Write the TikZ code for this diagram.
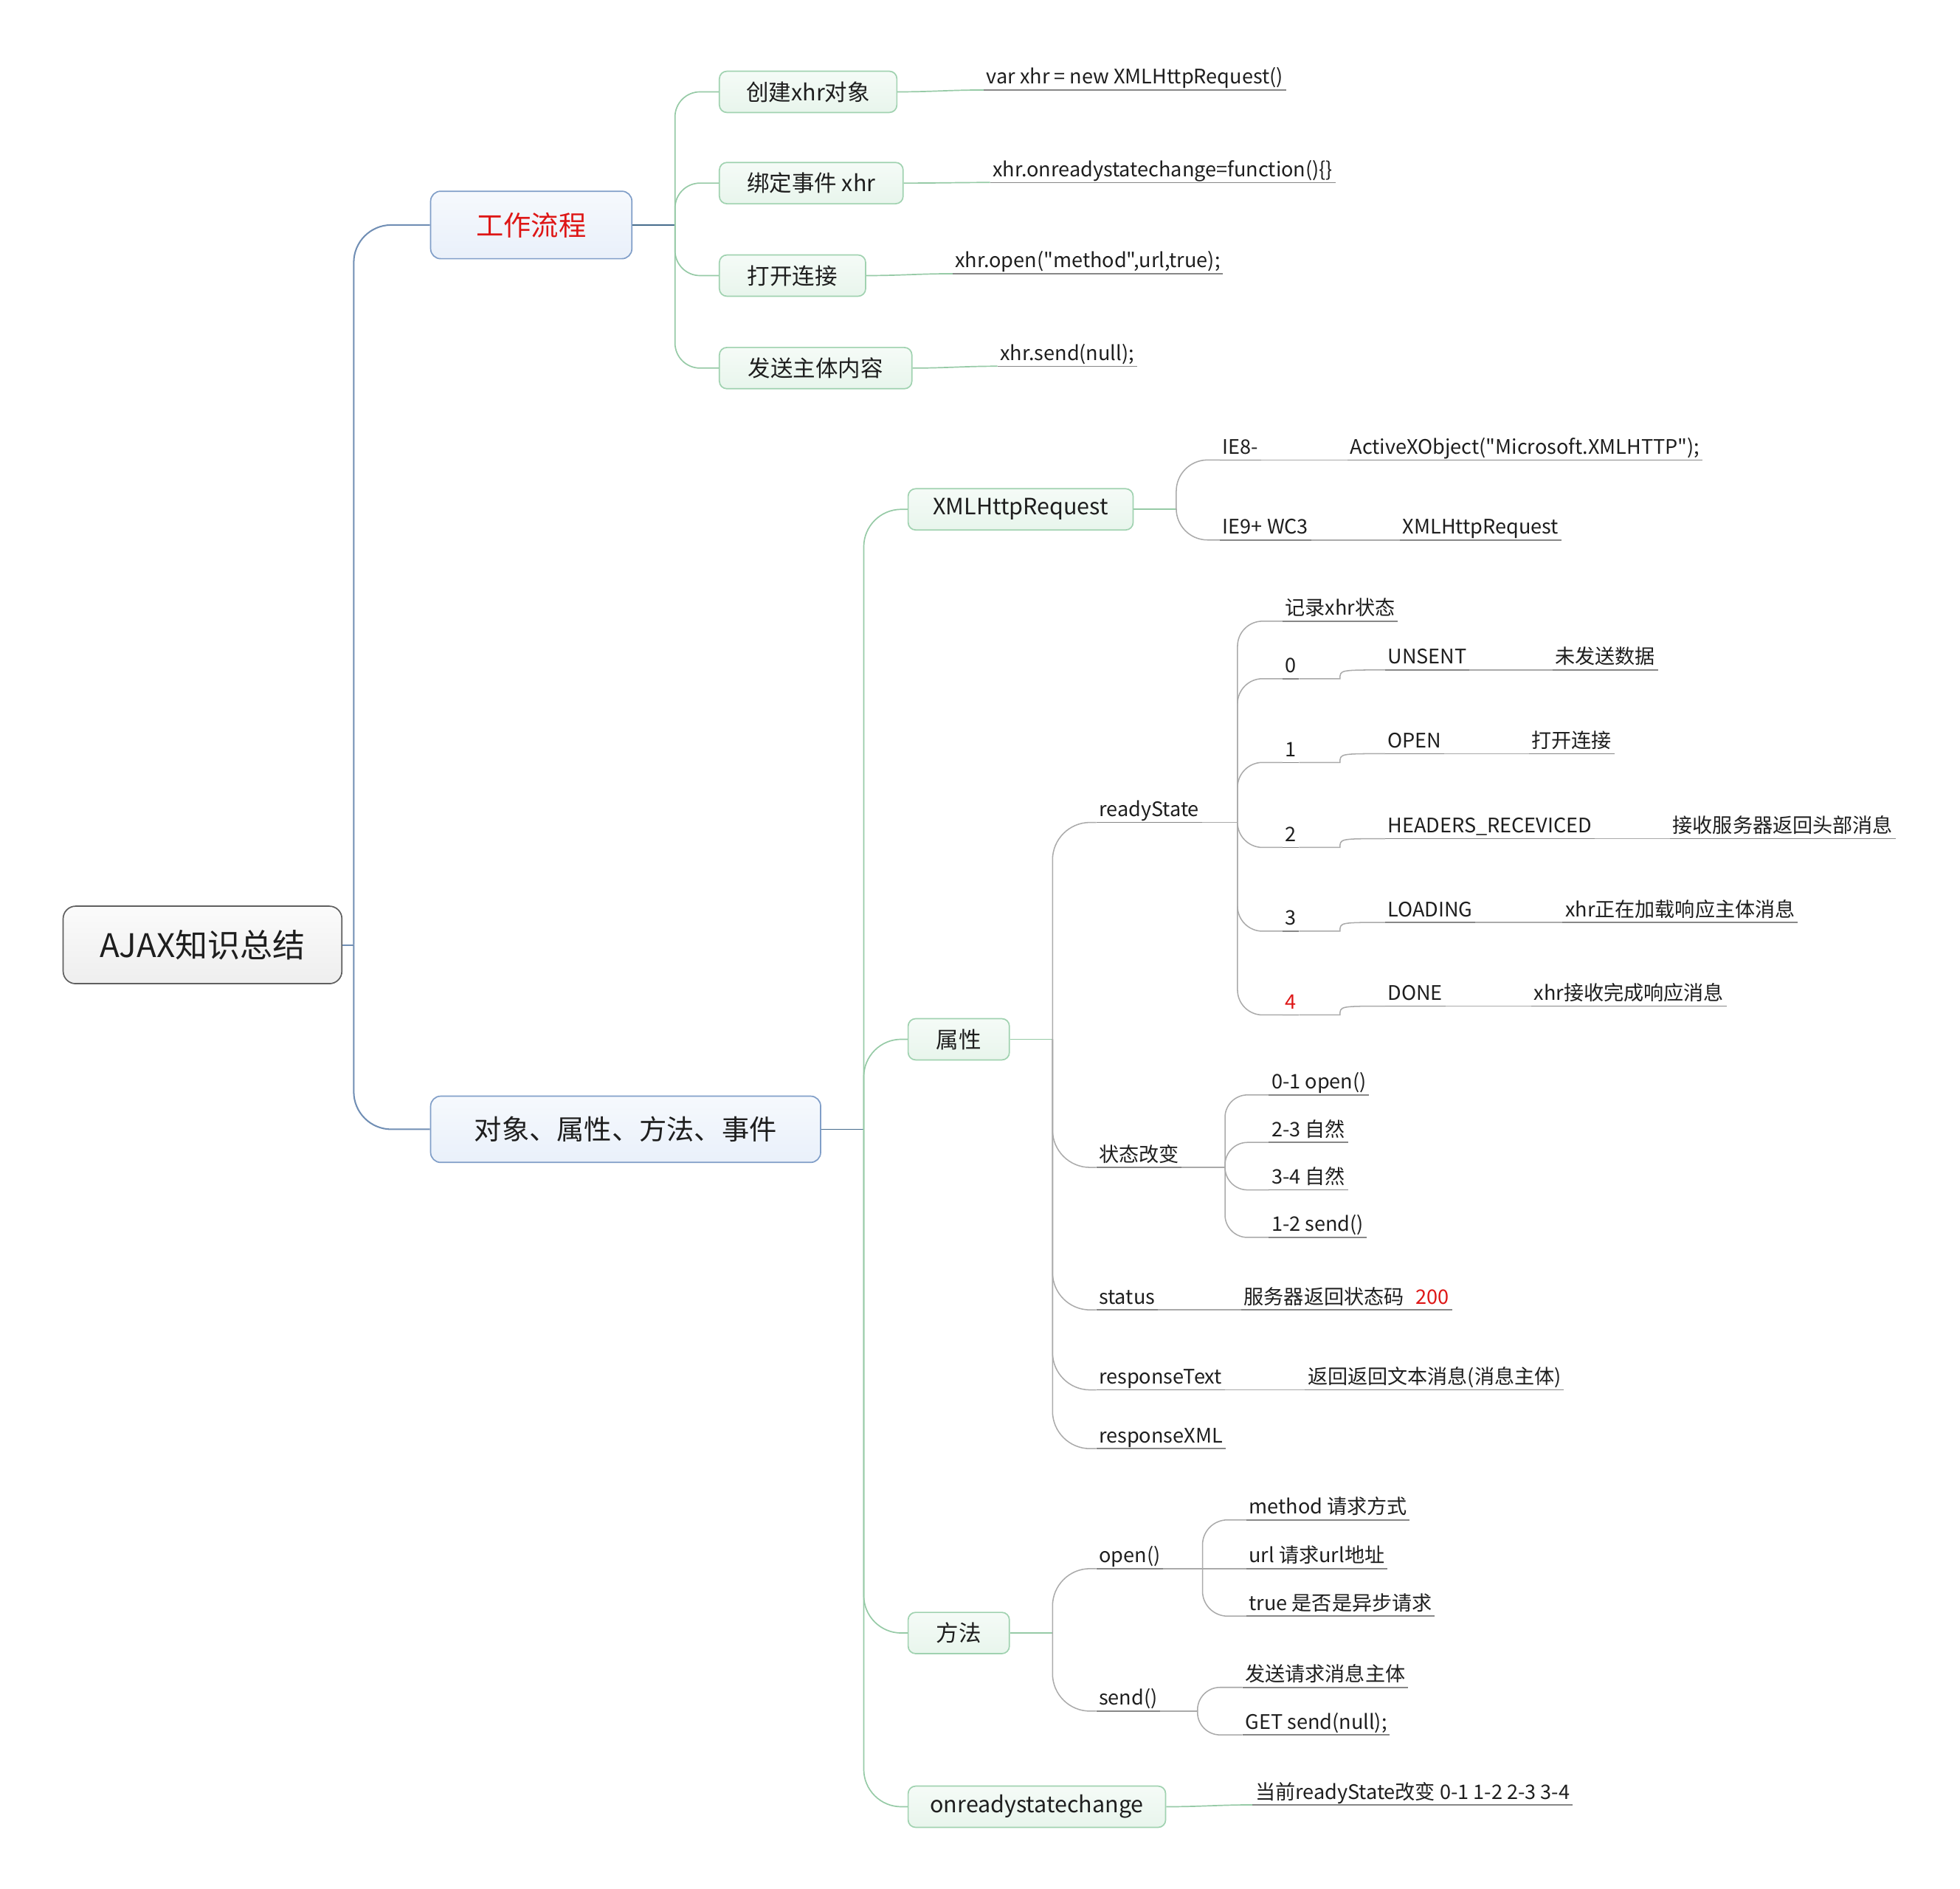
\documentclass[tikz,border=0pt]{standalone}
\usepackage{fontspec}
\setmainfont{Noto Sans CJK SC}[Ligatures=TeXOff]
\usetikzlibrary{calc}

\definecolor{txt}{RGB}{30,30,30}
\definecolor{hot}{RGB}{222,22,22}
\definecolor{bluel}{RGB}{112,142,180}
\definecolor{bluedk}{RGB}{70,108,140}
\definecolor{greenl}{RGB}{150,202,166}
\definecolor{grayl}{RGB}{170,170,170}
\definecolor{grayu}{RGB}{135,135,135}
\definecolor{rootbd}{RGB}{95,95,95}
\definecolor{mainbd}{RGB}{128,158,200}
\definecolor{subbd}{RGB}{160,210,176}
\definecolor{roottop}{RGB}{251,251,251}
\definecolor{rootbot}{RGB}{238,238,238}
\definecolor{maintop}{RGB}{246,249,253}
\definecolor{mainbot}{RGB}{233,240,250}
\definecolor{subtop}{RGB}{245,251,247}
\definecolor{subbot}{RGB}{232,245,236}

\tikzset{
  rootbox/.style={draw=rootbd, line width=1pt, rounded corners=10pt,
    top color=roottop, bottom color=rootbot, minimum height=62pt,
    inner sep=0pt, text=txt, font=\fontsize{26}{30}\selectfont},
  mainbox/.style={draw=mainbd, line width=1pt, rounded corners=8pt,
    top color=maintop, bottom color=mainbot, minimum height=53pt,
    inner sep=0pt, text=txt, font=\fontsize{22}{26}\selectfont},
  subbox/.style={draw=subbd, line width=1pt, rounded corners=6pt,
    top color=subtop, bottom color=subbot, minimum height=33pt,
    inner sep=0pt, text=txt, font=\fontsize{18}{22}\selectfont},
  leaf/.style={anchor=south west, inner xsep=2pt, inner ysep=1pt,
    text height=12pt, text depth=3.5pt, text=txt,
    font=\fontsize{16}{19}\selectfont},
  bline/.style={draw=bluel, line width=1.2pt},
  dline/.style={draw=bluedk, line width=1pt},
  gline/.style={draw=greenl, line width=1pt},
  kline/.style={draw=grayl, line width=0.9pt},
  uline/.style={draw=grayu, line width=0.9pt},
}

\begin{document}
\begin{tikzpicture}[x=1pt,y=-1pt]
\useasboundingbox (0,0) rectangle (1568,1511);

% ---------- boxes ----------
\node[rootbox, minimum width=223pt, anchor=west] (root) at (50,756) {AJAX知识总结};
\node[mainbox, minimum width=161pt, minimum height=54pt, anchor=west] (wf) at (344,180) {\textcolor{hot}{工作流程}};
\node[mainbox, minimum width=312pt, anchor=west] (obj) at (344,903.5) {对象、属性、方法、事件};

\node[subbox, minimum width=142pt, anchor=west] (c1) at (575,73.5) {创建xhr对象};
\node[subbox, minimum width=147pt, anchor=west] (c2) at (575,146.5) {绑定事件 xhr};
\node[subbox, minimum width=117pt, anchor=west] (c3) at (575,220.5) {打开连接};
\node[subbox, minimum width=154pt, anchor=west] (c4) at (575,294.5) {发送主体内容};

\node[subbox, minimum width=180pt, anchor=west] (xr) at (726,407.5) {XMLHttpRequest};
\node[subbox, minimum width=81pt, anchor=west] (sx) at (726,831.5) {属性};
\node[subbox, minimum width=81pt, anchor=west] (ff) at (726,1306.5) {方法};
\node[subbox, minimum width=206pt, anchor=west] (on) at (726,1445.5) {onreadystatechange};

% ---------- leaves: workflow ----------
\node[leaf] (v1) at (787,72) {var xhr = new XMLHttpRequest()};
\node[leaf] (v2) at (792,146) {xhr.onreadystatechange=function()\{\}};
\node[leaf] (v3) at (762,219) {xhr.open("method",url,true);};
\node[leaf] (v4) at (798,293) {xhr.send(null);};

% ---------- leaves: XMLHttpRequest ----------
\node[leaf] (ie8) at (976,368) {IE8-};
\node[leaf] (ax) at (1078,368) {ActiveXObject("Microsoft.XMLHTTP");};
\node[leaf] (ie9) at (976,432) {IE9+ WC3};
\node[leaf] (xh) at (1120,432) {XMLHttpRequest};

% ---------- leaves: properties ----------
\node[leaf] (rs) at (877,658) {readyState};
\node[leaf] (r0) at (1026,497) {记录xhr状态};
\node[leaf] (z0) at (1026,543) {0};
\node[leaf] (z1) at (1026,610) {1};
\node[leaf] (z2) at (1026,678) {2};
\node[leaf] (z3) at (1026,745) {3};
\node[leaf] (z4) at (1026,812) {\textcolor{hot}{4}};
\node[leaf] (u0) at (1108,536) {UNSENT};
\node[leaf] (u1) at (1108,603) {OPEN};
\node[leaf] (u2) at (1108,671) {HEADERS\_RECEVICED};
\node[leaf] (u3) at (1108,738) {LOADING};
\node[leaf] (u4) at (1108,805) {DONE};
\node[leaf] (d0) at (1242,536) {未发送数据};
\node[leaf] (d1) at (1223,603) {打开连接};
\node[leaf] (d2) at (1336,671) {接收服务器返回头部消息};
\node[leaf] (d3) at (1250,738) {xhr正在加载响应主体消息};
\node[leaf] (d4) at (1225,805) {xhr接收完成响应消息};

\node[leaf] (sg) at (877,934) {状态改变};
\node[leaf] (t1) at (1015,876) {0-1 open()};
\node[leaf] (t2) at (1015,914) {2-3 自然};
\node[leaf] (t3) at (1015,952) {3-4 自然};
\node[leaf] (t4) at (1015,990) {1-2 send()};

\node[leaf] (st) at (877,1048) {status};
\node[leaf] (sv) at (993,1048) {服务器返回状态码\hspace{0.6em}\textcolor{hot}{200}};
\node[leaf] (rt) at (877,1112) {responseText};
\node[leaf] (rv) at (1044,1112) {返回返回文本消息(消息主体)};
\node[leaf] (rx) at (877,1159) {responseXML};

% ---------- leaves: methods ----------
\node[leaf] (op) at (877,1255) {open()};
\node[leaf] (m1) at (997,1216) {method 请求方式};
\node[leaf] (m2) at (997,1255) {url 请求url地址};
\node[leaf] (m3) at (997,1293) {true 是否是异步请求};
\node[leaf] (sd) at (877,1369) {send()};
\node[leaf] (n1) at (994,1350) {发送请求消息主体};
\node[leaf] (n2) at (994,1388) {GET send(null);};

% ---------- leaf: event ----------
\node[leaf] (oc) at (1002,1444) {当前readyState改变 0-1 1-2 2-3 3-4};

% ---------- connectors: root ----------
\coordinate (j0) at (283,756);
\draw[bline] (root.east) -- (j0);
\draw[bline, rounded corners=30pt] (j0) |- (wf.west);
\draw[bline, rounded corners=30pt] (j0) |- (obj.west);

% ---------- connectors: workflow ----------
\coordinate (j1) at (540,180);
\draw[dline] (wf.east) -- (j1);
\foreach \c in {c1,c2,c3,c4}
  \draw[gline, rounded corners=20pt] (j1) |- (\c.west);
\foreach \a/\b in {c1/v1,c2/v2,c3/v3,c4/v4}
  \draw[gline] (\a.east) to[out=0,in=180] (\b.south west);

% ---------- connectors: objects, properties, methods, events ----------
\coordinate (j2) at (691,903.5);
\draw[dline] (obj.east) -- (j2);
\foreach \c in {xr,sx,ff,on}
  \draw[gline, rounded corners=30pt] (j2) |- (\c.west);

% XMLHttpRequest
\coordinate (j3) at (941,407.5);
\draw[gline] (xr.east) -- (j3);
\foreach \c in {ie8,ie9}
  \draw[kline, rounded corners=25pt] (j3) |- (\c.south west);
\draw[kline] (ie8.south east) -- (ax.south west);
\draw[kline] (ie9.south east) -- (xh.south west);

% properties
\coordinate (j4) at (842,831.5);
\draw[gline] (sx.east) -- (j4);
\foreach \c in {rs,sg,st,rt,rx}
  \draw[kline, rounded corners=30pt] (j4) |- (\c.south west);

% readyState values
\coordinate (j5) at (990,658);
\draw[kline] (rs.south east) -- (j5);
\foreach \c in {r0,z0,z1,z2,z3,z4}
  \draw[kline, rounded corners=20pt] (j5) |- (\c.south west);
\coordinate (jog) at (1072,0);
\foreach \a/\b/\c in {z0/u0/d0,z1/u1/d1,z2/u2/d2,z3/u3/d3,z4/u4/d4}{
  \draw[kline] (\a.south east) -- (\a.south east -| jog)
    .. controls (jog |- \b.south west) .. (\b.south west);
  \draw[kline] (\b.south east) -- (\c.south west);
}

% state changes
\coordinate (j6) at (980,934);
\draw[kline] (sg.south east) -- (j6);
\foreach \c in {t1,t2,t3,t4}
  \draw[kline, rounded corners=18pt] (j6) |- (\c.south west);

\draw[kline] (st.south east) -- (sv.south west);
\draw[kline] (rt.south east) -- (rv.south west);

% methods
\coordinate (j7) at (842,1306.5);
\draw[gline] (ff.east) -- (j7);
\foreach \c in {op,sd}
  \draw[kline, rounded corners=30pt] (j7) |- (\c.south west);
\coordinate (j8) at (962,1255);
\draw[kline] (op.south east) -- (j8);
\draw[kline, rounded corners=20pt] (j8) |- (m1.south west);
\draw[kline] (j8) -- (m2.south west);
\draw[kline, rounded corners=20pt] (j8) |- (m3.south west);
\coordinate (j9) at (958,1369);
\draw[kline] (sd.south east) -- (j9);
\foreach \c in {n1,n2}
  \draw[kline, rounded corners=18pt] (j9) |- (\c.south west);

% event
\draw[gline] (on.east) to[out=0,in=180] (oc.south west);

% ---------- underlines of the plain topics ----------
\foreach \n in {v1,v2,v3,v4,ie8,ax,ie9,xh,rs,r0,z0,z1,z2,z3,z4,u0,u1,u2,u3,u4,
                d0,d1,d2,d3,d4,sg,t1,t2,t3,t4,st,sv,rt,rv,rx,op,m1,m2,m3,sd,n1,n2,oc}
  \draw[uline] (\n.south west) -- (\n.south east);
\end{tikzpicture}
\end{document}
